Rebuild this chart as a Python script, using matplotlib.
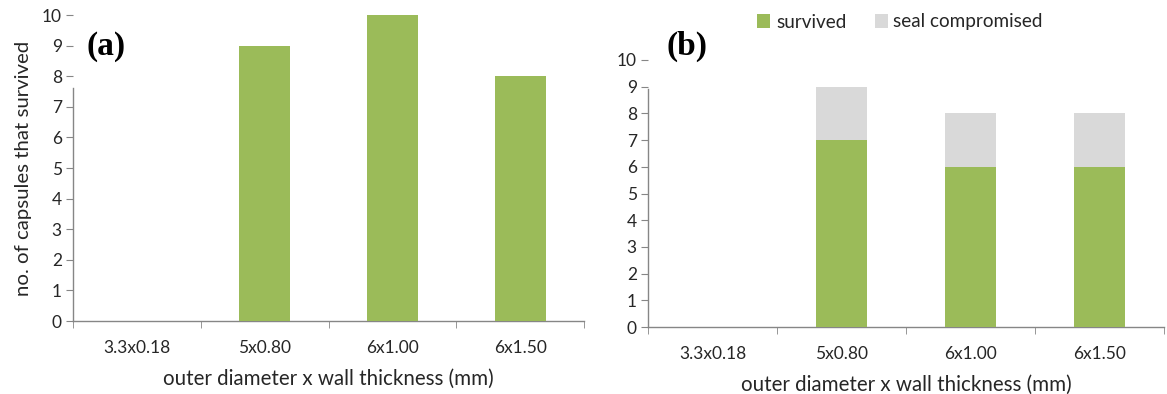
import matplotlib
matplotlib.use("Agg")
import matplotlib.pyplot as plt
import numpy as np

categories = ["3.3x0.18", "5x0.80", "6x1.00", "6x1.50"]
survived_a = [0, 9, 10, 8]
survived_b = [0, 7, 6, 6]
seal_compromised_b = [0, 2, 2, 2]
yticks = list(range(0, 11))

GREEN = "#9BBB59"
GRAY = "#D9D9D9"
AX = "#868686"
TXT = "#262626"

plt.rcParams['font.family'] = ['Lato', 'DejaVu Sans']

W, H = 1167, 394
fig = plt.figure(figsize=(W/100, H/100), dpi=100)
axa = fig.add_axes([73/W, 1-321/H, (584-73)/W, (321-15)/H])
axb = fig.add_axes([648/W, 1-327/H, (1164-648)/W, (327-60)/H])

x = np.arange(len(categories))
w = 0.4

def style(ax, spine_top):
    ax.set_xlim(-0.5, len(categories) - 0.5)
    ax.set_ylim(0, 10)
    ax.set_yticks(yticks)
    ax.set_yticklabels([str(t) for t in yticks], fontsize=12.5, color=TXT)
    ax.set_xticks(x)
    ax.set_xticklabels(categories, fontsize=12.5, color=TXT)
    ax.set_xticks(np.arange(len(categories) + 1) - 0.5, minor=True)
    ax.tick_params(axis='x', which='major', length=0, pad=14)
    ax.tick_params(axis='x', which='minor', length=5, color=AX, direction='out')
    ax.tick_params(axis='y', length=5, color=AX, direction='out', pad=3)
    for s in ['top', 'right']:
        ax.spines[s].set_visible(False)
    for s in ['left', 'bottom']:
        ax.spines[s].set_color(AX)
        ax.spines[s].set_linewidth(1.0)
    ax.spines['left'].set_bounds(0, spine_top)
    ax.set_xlabel("outer diameter x wall thickness (mm)", fontsize=14.8, color=TXT, labelpad=9)

axa.bar(x, survived_a, width=w, color=GREEN, zorder=3)
style(axa, 7.6)
axa.set_ylabel("no. of capsules that survived", fontsize=14.7, color=TXT, labelpad=7)
fig.text(87/W, 1-46/H, "(a)", fontsize=24, fontweight='bold',
         family='Liberation Serif', va='center', ha='left')

axb.bar(x, survived_b, width=w, color=GREEN, zorder=3, label="survived")
axb.bar(x, seal_compromised_b, width=w, bottom=survived_b, color=GRAY, zorder=3,
        label="seal compromised")
style(axb, 8.9)
fig.text(667/W, 1-46/H, "(b)", fontsize=24, fontweight='bold',
         family='Liberation Serif', va='center', ha='left')
axb.legend(loc='center', bbox_to_anchor=(900/W, 1-22/H), bbox_transform=fig.transFigure,
           ncol=2, frameon=False, fontsize=13.6, handlelength=0.7, handleheight=0.7,
           handletextpad=0.3, columnspacing=1.5, labelcolor=TXT)

fig.savefig("out.png", dpi=100)
